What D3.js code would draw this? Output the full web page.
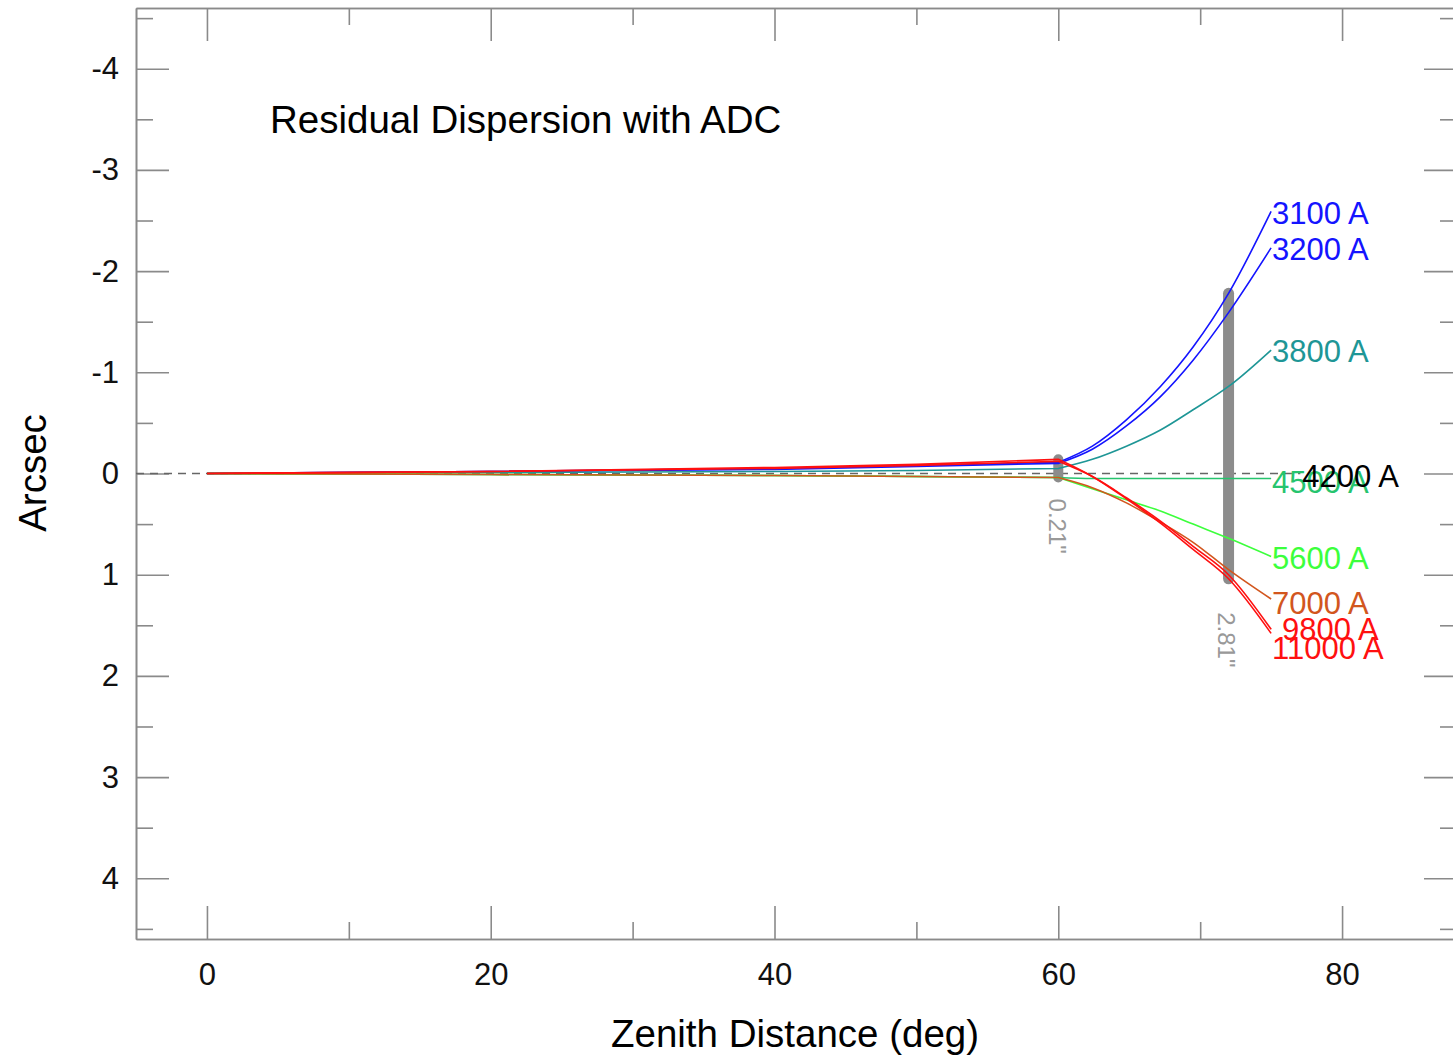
<!DOCTYPE html>
<html>
<head>
<meta charset="utf-8">
<script src="https://cdn.jsdelivr.net/npm/d3@7"></script>
<style>
    body { margin: 0; background: #fff; }
    #chart { width: 1453px; height: 1060px; overflow: hidden; }
    text { font-family: "Liberation Sans", Arial, Helvetica, sans-serif; }
</style>
</head>
<body>
<div id="chart"></div>
<script>

// zenith distance (deg) where each curve was read
const zenith = [0, 20, 40, 50, 60, 62.4, 64.8, 67.2, 69.5, 72, 75];

// residual dispersion (arcsec) per wavelength
const wavelengths = ["3100 A", "3200 A", "3800 A", "4500 A", "5600 A", "7000 A", "9800 A", "11000 A"];
const residuals = [
    [0, -0.02, -0.05, -0.08, -0.11, -0.27, -0.53, -0.86, -1.25, -1.78, -2.59],
    [0, -0.02, -0.04, -0.07, -0.10, -0.24, -0.47, -0.76, -1.12, -1.59, -2.23],
    [0, -0.01, -0.02, -0.03, -0.05, -0.14, -0.27, -0.43, -0.63, -0.86, -1.22],
    [0, 0.01, 0.02, 0.03, 0.04, 0.05, 0.05, 0.05, 0.05, 0.05, 0.05],
    [0, 0.01, 0.02, 0.03, 0.04, 0.15, 0.26, 0.37, 0.50, 0.64, 0.82],
    [0, 0.01, 0.02, 0.03, 0.04, 0.14, 0.29, 0.48, 0.68, 0.95, 1.24],
    [0, -0.02, -0.05, -0.08, -0.12, 0.03, 0.24, 0.47, 0.72, 1.00, 1.54],
    [0, -0.02, -0.06, -0.09, -0.14, 0.03, 0.25, 0.49, 0.75, 1.04, 1.58]
];
const seriesColors = ["#1414ff", "#1414ff", "#1e9696", "#26c46e", "#3cff3c", "#d2561e", "#ff1010", "#ff1010"];

// reference wavelength (dashed zero line)
const refLabel = "4200 A";
const refRange = [-5, 77.2];

// spread markers
const spreadAt = [60, 72];
const spreadLabels = ["0.21\"", "2.81\""];

const xTicks = [0, 20, 40, 60, 80];
const xMinorTicks = [10, 30, 50, 70];
const yTicks = [-4, -3, -2, -1, 0, 1, 2, 3, 4];
const yMinorTicks = [-4.5, -3.5, -2.5, -1.5, -0.5, 0.5, 1.5, 2.5, 3.5, 4.5];

const props = {
    width: 1453,
    height: 1060,
    axis: {stroke: "#8a8a8a", strokeWidth: 1.6, major: 33, minor: 17},
    tick: {fontSize: 31, fill: "#111"},
    title: {fontSize: 38.5},
    lines: {strokeWidth: 1.6},
    label: {fontSize: 31},
    spread: {stroke: "#8c8c8c", fill: "#999", fontSize: 24}
};

const labelDx = [1, 1, 1, 1, 1, 1, 11, 1];
const labelDy = [1, 1, 1, 3, 1, 4, -1, 14];
const spreadWidth = [10, 11];
const spreadLabelDy = [16, 28];
const knee = 60; // curves fan out from here

const svg = d3.select("#chart").append("svg")
    .attr("width", props.width)
    .attr("height", props.height);

const xScale = d3.scaleLinear().domain([-5, 88.1]).range([136, 1457]);
const yScale = d3.scaleLinear().domain([-4.6, 4.6]).range([8, 939]);

const styleAxis = (g) => {
    g.select(".domain").attr("stroke", props.axis.stroke).attr("stroke-width", props.axis.strokeWidth);
    g.selectAll(".tick line").attr("stroke", props.axis.stroke).attr("stroke-width", props.axis.strokeWidth);
    g.selectAll(".tick text")
        .attr("font-size", props.tick.fontSize)
        .attr("font-family", "Liberation Sans, Arial, sans-serif")
        .attr("fill", props.tick.fill);
};

const drawAxis = (axisFn, scale, ticks, size, transform, showLabels, padding) => {
    const axis = axisFn(scale)
        .tickValues(ticks)
        .tickSizeInner(-size)
        .tickSizeOuter(0)
        .tickPadding(padding || 0)
        .tickFormat(showLabels ? d3.format("d") : "");
    svg.append("g").attr("transform", transform).call(axis).call(styleAxis);
};

// frame: bottom / top / left / right, majors then minors
drawAxis(d3.axisBottom, xScale, xTicks, props.axis.major, `translate(0,${yScale.range()[1]})`, true, 24);
drawAxis(d3.axisBottom, xScale, xMinorTicks, props.axis.minor, `translate(0,${yScale.range()[1]})`, false);
drawAxis(d3.axisTop, xScale, xTicks, props.axis.major, `translate(0,${yScale.range()[0]})`, false);
drawAxis(d3.axisTop, xScale, xMinorTicks, props.axis.minor, `translate(0,${yScale.range()[0]})`, false);
drawAxis(d3.axisLeft, yScale, yTicks, props.axis.major, `translate(${xScale.range()[0]},0)`, true, 17);
drawAxis(d3.axisLeft, yScale, yMinorTicks, props.axis.minor, `translate(${xScale.range()[0]},0)`, false);
drawAxis(d3.axisRight, yScale, yTicks, props.axis.major, `translate(${xScale.range()[1]},0)`, false);
drawAxis(d3.axisRight, yScale, yMinorTicks, props.axis.minor, `translate(${xScale.range()[1]},0)`, false);

// make the minus sign a plain hyphen like the original
svg.selectAll(".tick text").text(function() { return d3.select(this).text().replace("\u2212", "-"); });

// dashed zero reference
svg.append("line")
    .attr("x1", xScale(refRange[0]))
    .attr("x2", xScale(refRange[1]) - 2)
    .attr("y1", yScale(0))
    .attr("y2", yScale(0))
    .attr("stroke", "#666")
    .attr("stroke-width", 1.5)
    .attr("stroke-dasharray", "8,6");

const plotData = wavelengths.map((name, i) => ({
    name,
    color: seriesColors[i],
    points: zenith.map((z, j) => ({z, v: residuals[i][j]}))
}));

const flatLine = d3.line()
    .x((d) => xScale(d.z))
    .y((d) => yScale(d.v));

const fanLine = d3.line()
    .x((d) => xScale(d.z))
    .y((d) => yScale(d.v))
    .curve(d3.curveMonotoneX);

const linePath = (points) =>
    flatLine(points.filter((p) => p.z <= knee)) + fanLine(points.filter((p) => p.z >= knee)).replace(/^M/, "L");

// spread bars behind the curves
spreadAt.forEach((z, i) => {
    const j = zenith.indexOf(z);
    const extent = d3.extent(residuals, (r) => r[j]);
    svg.append("line")
        .attr("x1", xScale(z)).attr("x2", xScale(z))
        .attr("y1", yScale(extent[0])).attr("y2", yScale(extent[1]))
        .attr("stroke", props.spread.stroke)
        .attr("stroke-width", spreadWidth[i])
        .attr("stroke-linecap", "round");
    const ly = yScale(extent[1]) + spreadWidth[i] / 2 + spreadLabelDy[i];
    svg.append("text")
        .attr("transform", `translate(${xScale(z) - spreadWidth[i] + 0.5},${ly}) rotate(90)`)
        .attr("font-size", props.spread.fontSize)
        .attr("fill", props.spread.fill)
        .text(spreadLabels[i]);
});

svg.append("g")
    .selectAll("path")
    .data(plotData)
    .join("path")
    .attr("d", (d) => linePath(d.points))
    .attr("fill", "none")
    .attr("stroke", (d) => d.color)
    .attr("stroke-width", props.lines.strokeWidth)
    .attr("stroke-linejoin", "round");

svg.append("g")
    .selectAll("text")
    .data(plotData)
    .join("text")
    .attr("x", (d, i) => xScale(d.points[d.points.length - 1].z) + labelDx[i])
    .attr("y", (d, i) => yScale(d.points[d.points.length - 1].v) + labelDy[i])
    .attr("dy", "0.36em")
    .attr("font-size", props.label.fontSize)
    .attr("fill", (d) => d.color)
    .text((d) => d.name);

svg.append("text")
    .attr("x", xScale(refRange[1]))
    .attr("y", yScale(0) + 2)
    .attr("dy", "0.36em")
    .attr("font-size", props.label.fontSize)
    .attr("fill", "#000")
    .text(refLabel);

// titles
svg.append("text")
    .attr("x", 270)
    .attr("y", 133)
    .attr("font-size", props.title.fontSize)
    .attr("fill", "#000")
    .text("Residual Dispersion with ADC");

svg.append("text")
    .attr("x", 795)
    .attr("y", 1047)
    .attr("text-anchor", "middle")
    .attr("font-size", props.title.fontSize)
    .attr("fill", "#000")
    .text("Zenith Distance (deg)");

svg.append("text")
    .attr("transform", "translate(46,473) rotate(-90)")
    .attr("text-anchor", "middle")
    .attr("font-size", props.title.fontSize)
    .attr("fill", "#000")
    .text("Arcsec");

</script>
</body>
</html>
